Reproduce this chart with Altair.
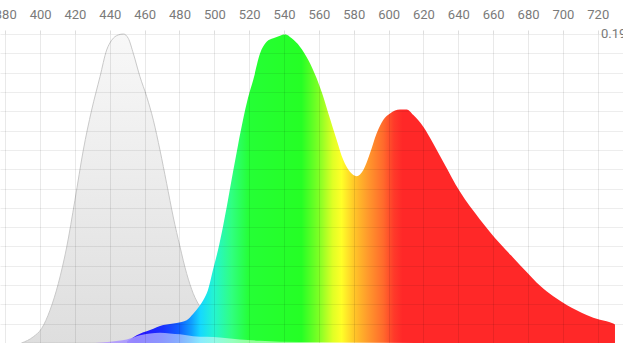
import altair as alt
import pandas as pd

# ---- data ----
x_ticks = [380, 400, 420, 440, 460, 480, 500, 520, 540, 560, 580, 600, 620, 640, 660, 680, 700, 720, 740]
y_ticks = [i / 16 for i in range(17)]

ex_nm = [389.4, 396.1, 400.9, 405.7, 410.5, 415.3, 420.0, 424.8, 429.6, 434.4, 438.2, 441.1,
         444.9, 447.8, 450.6, 453.5, 457.3, 461.2, 465.0, 468.8, 472.6, 476.4, 480.3, 484.1,
         487.9, 491.8, 497.7, 503.4, 509.2, 516.0, 525.0, 540.0]
ex_val = [0.0, 0.02, 0.047, 0.106, 0.193, 0.311, 0.462, 0.624, 0.754, 0.862, 0.948, 0.98,
          0.997, 1.0, 0.986, 0.937, 0.862, 0.797, 0.721, 0.624, 0.517, 0.408, 0.311, 0.225,
          0.16, 0.117, 0.08, 0.05, 0.03, 0.018, 0.008, 0.0]

em_nm = [449.9, 455.4, 463.1, 470.7, 478.4, 484.1, 487.9, 491.8, 493.7, 496.3, 499.2, 502.1,
         505.0, 507.8, 510.7, 513.6, 516.4, 519.3, 522.3, 526.2, 530.0, 533.8, 537.7, 540.5,
         544.4, 549.1, 553.9, 558.7, 561.8, 566.3, 570.2, 574.0, 577.8, 581.7, 585.5, 589.3,
         593.1, 596.9, 600.8, 606.5, 610.4, 614.2, 619.9, 625.6, 631.4, 640.9, 652.4, 663.9,
         671.5, 679.2, 686.8, 694.5, 702.2, 713.6, 721.3, 728.9, 729.9]
em_val = [0.005, 0.025, 0.042, 0.058, 0.065, 0.074, 0.095, 0.122, 0.139, 0.171, 0.236, 0.301,
          0.378, 0.462, 0.553, 0.641, 0.721, 0.793, 0.851, 0.937, 0.975, 0.986, 0.994, 0.999,
          0.986, 0.959, 0.916, 0.857, 0.809, 0.727, 0.657, 0.592, 0.554, 0.540, 0.560, 0.614,
          0.678, 0.722, 0.743, 0.756, 0.756, 0.738, 0.700, 0.646, 0.586, 0.490, 0.400, 0.322,
          0.276, 0.230, 0.186, 0.151, 0.123, 0.091, 0.075, 0.063, 0.060]

p_nm = [431.5, 440.1, 449.7, 457.3, 463.1, 468.8, 474.5, 480.3, 487.9, 495.6, 503.2, 514.7,
        526.2, 537.7, 560.6, 590.0, 615.1]
p_val = [0.0, 0.004, 0.011, 0.025, 0.031, 0.033, 0.031, 0.028, 0.022, 0.020, 0.018, 0.011,
         0.007, 0.004, 0.003, 0.002, 0.0]

# spectral colour stops (style)
spec_nm = [400, 420, 440, 455, 470, 480, 487, 492, 500, 510, 520, 550, 560, 568, 573, 580,
           588, 597, 603, 608, 760]
spec_col = ["#8a00ff", "#7a10ff", "#5a20ff", "#2a10ff", "#1a30ff", "#1060ff", "#10a0ff",
            "#15d8ff", "#25f5d0", "#30ff80", "#25ff35", "#25ff25", "#80ff25", "#e0ff25",
            "#ffff28", "#ffc828", "#ff9a2c", "#ff6a2c", "#ff3a2a", "#ff2828", "#ff2828"]


def hex2rgb(h):
    return [int(h[i:i + 2], 16) for i in (1, 3, 5)]


def rgb2hex(c):
    return "#" + "".join("%02x" % max(0, min(255, int(round(v)))) for v in c)


def col_at(nm, light=0.0):
    for i in range(len(spec_nm) - 1):
        a, b = spec_nm[i], spec_nm[i + 1]
        if a <= nm <= b:
            t = (nm - a) / (b - a)
            ca, cb = hex2rgb(spec_col[i]), hex2rgb(spec_col[i + 1])
            c = [ca[k] + (cb[k] - ca[k]) * t for k in range(3)]
            c = [v + (255 - v) * light for v in c]
            return rgb2hex(c)
    return spec_col[-1]


def spectral_gradient(lo, hi, light=0.0):
    pts = [lo] + [n for n in spec_nm if lo < n < hi] + [hi]
    stops = [alt.GradientStop(color=col_at(n, light), offset=(n - lo) / (hi - lo)) for n in pts]
    return alt.Gradient(gradient="linear", stops=stops, x1=0, x2=1, y1=0, y2=0)


ex_df = pd.DataFrame({"nm": ex_nm, "v": ex_val})
em_df = pd.DataFrame({"nm": em_nm, "v": em_val})
p_df = pd.DataFrame({"nm": p_nm, "v": p_val})

xscale = alt.Scale(domain=[377.0, 734.5], nice=False, zero=False)
yscale = alt.Scale(domain=[0, 1], nice=False, zero=True)

xaxis = alt.Axis(orient="top", values=x_ticks, tickCount=len(x_ticks), grid=True,
                 gridColor="#000", gridOpacity=0.085, domain=False, tickColor="#dddddd",
                 tickSize=4, labelFont="Roboto", labelFontSize=13, labelColor="#7a7a7a",
                 labelPadding=9, title=None, zindex=1, labelFlush=False, labelOverlap=False)
yaxis = alt.Axis(values=y_ticks, tickCount=len(y_ticks), grid=True, gridColor="#000",
                 gridOpacity=0.07, domain=False, ticks=False, labels=False, title=None,
                 zindex=1)

grey_fill = alt.Gradient(gradient="linear",
                         stops=[alt.GradientStop(color="#f8f8f8", offset=0),
                                alt.GradientStop(color="#dedede", offset=1)],
                         x1=0, x2=0, y1=0, y2=1)

X = alt.X("nm:Q", scale=xscale, axis=xaxis)
Y = alt.Y("v:Q", scale=yscale, axis=yaxis)

ex = alt.Chart(ex_df).mark_area(interpolate="monotone", fill=grey_fill, stroke="#c9c9c9",
                                strokeWidth=1).encode(x=X, y=Y)

em = alt.Chart(em_df).mark_area(interpolate="monotone",
                                fill=spectral_gradient(em_nm[0], em_nm[-1])).encode(x=X, y=Y)

pa = alt.Chart(p_df).mark_area(interpolate="monotone",
                               fill=spectral_gradient(p_nm[0], p_nm[-1], light=0.55),
                               fillOpacity=0.9).encode(x=X, y=Y)

lbl = alt.Chart(pd.DataFrame({"t": ["0.19"], "v": [1.0]})).mark_text(
    align="left", baseline="middle", font="Roboto", fontSize=13, color="#7a7a7a"
).encode(
    x=alt.value(601),
    y=Y,
    text="t:N",
)

chart = alt.layer(ex, em, pa, lbl).properties(
    width=623, height=309,
    autosize=alt.AutoSizeParams(type="none"),
    padding={"left": 0, "top": 34, "right": 0, "bottom": 0},
).configure_view(stroke=None)

chart.save("out.html", embed_options={"renderer": "svg", "actions": False})
